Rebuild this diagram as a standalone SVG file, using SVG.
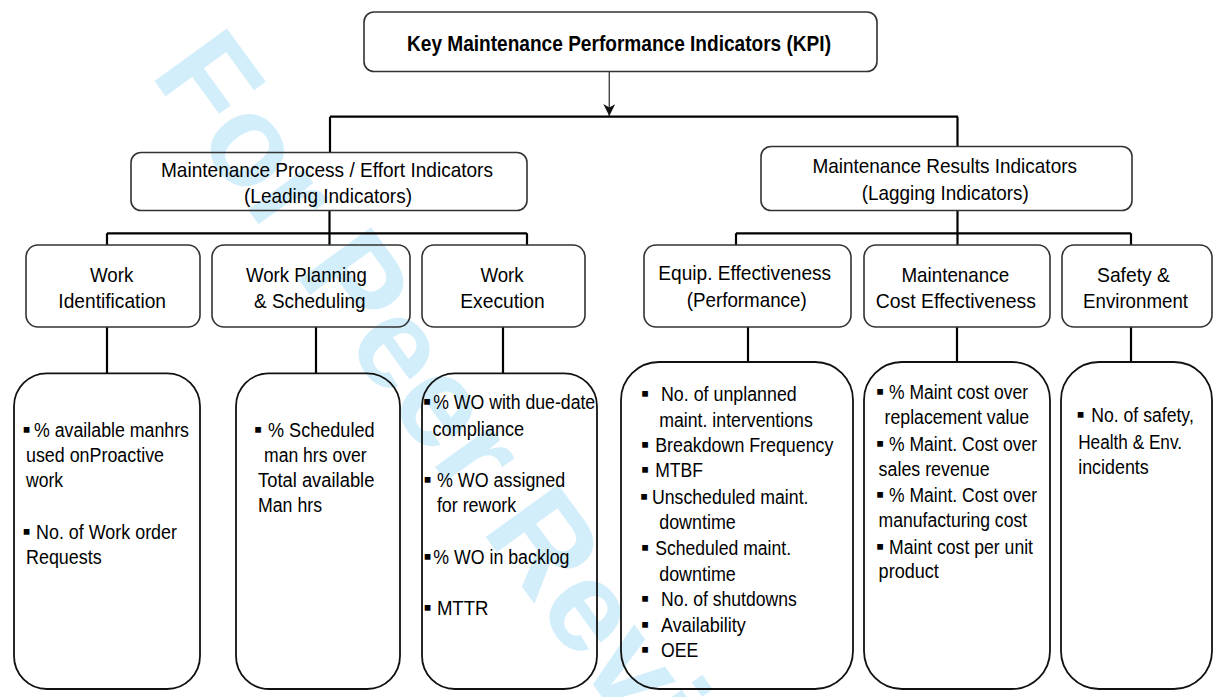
<svg xmlns="http://www.w3.org/2000/svg" width="1223" height="697" viewBox="0 0 1223 697">
<defs>
<style>
.wm{font-family:"Liberation Sans",Arial,sans-serif;font-weight:bold;font-size:130px;fill:#d3eefb}
.box{fill:none;stroke:#333;stroke-width:1.6}
.lbox{fill:none;stroke:#111;stroke-width:1.8}
.conn{fill:none;stroke:#000;stroke-width:2.2}
.arr{fill:none;stroke:#444;stroke-width:1.4}
.title{font-family:"Liberation Sans",Arial,sans-serif;font-weight:bold;font-size:22px;fill:#000}
.h{font-family:"Liberation Sans",Arial,sans-serif;font-size:21px;fill:#000}
.t{font-family:"Liberation Sans",Arial,sans-serif;font-size:19.5px;fill:#000}
.b{font-family:"Liberation Sans",Arial,sans-serif;font-size:23px;fill:#000}
</style>
<marker id="arrow" markerUnits="userSpaceOnUse" markerWidth="13" markerHeight="13" refX="12" refY="6" orient="auto">
<path d="M0,0 L12,6 L0,12 L3.5,6 z" fill="#111"/>
</marker>
</defs>
<rect width="1223" height="697" fill="#fff"/>
<text class="wm" transform="translate(149.4,74) rotate(54)">For Peer Review</text>

<g id="connectors">
<path class="arr" d="M609.3,71.5 V116" marker-end="url(#arrow)"/>
<path class="conn" d="M330,116.7 H958 M330,116.7 V152.5 M957.5,116.7 V146.5"/>
<path class="conn" d="M107,233.3 H527 M329.5,210.5 V245 M107,233.3 V245 M527,233.3 V245"/>
<path class="conn" d="M736,233.3 H1131 M957.5,210.5 V245 M736,233.3 V245 M1131,233.3 V245"/>
<path class="conn" d="M107,327 V373.3 M316,327 V373.3 M503,327 V373.3 M748,327 V362 M957,327 V362 M1131,327 V362"/>
</g>

<g id="kpi">
<rect class="box" x="364" y="12" width="513" height="59.5" rx="10"/>
<text class="title" x="407" y="50.7" textLength="424" lengthAdjust="spacingAndGlyphs">Key Maintenance Performance Indicators (KPI)</text>
</g>

<g id="leading">
<rect class="box" x="131" y="152.5" width="396" height="58" rx="10"/>
<text class="h" x="161" y="176.7" textLength="332" lengthAdjust="spacingAndGlyphs">Maintenance Process / Effort Indicators</text>
<text class="h" x="244" y="203" textLength="168" lengthAdjust="spacingAndGlyphs">(Leading Indicators)</text>
</g>

<g id="lagging">
<rect class="box" x="761" y="146.5" width="371" height="64" rx="10"/>
<text class="h" x="812.4" y="173.3" textLength="264.6" lengthAdjust="spacingAndGlyphs">Maintenance Results Indicators</text>
<text class="h" x="861.8" y="200" textLength="167" lengthAdjust="spacingAndGlyphs">(Lagging Indicators)</text>
</g>

<g id="work-identification">
<rect class="box" x="26" y="245" width="174" height="82" rx="12"/>
<text class="h" x="90" y="281.7" textLength="43.3" lengthAdjust="spacingAndGlyphs">Work</text>
<text class="h" x="58.3" y="308.3" textLength="107.7" lengthAdjust="spacingAndGlyphs">Identification</text>
</g>

<g id="work-planning">
<rect class="box" x="212" y="245" width="198" height="82" rx="12"/>
<text class="h" x="246" y="281.7" textLength="120.8" lengthAdjust="spacingAndGlyphs">Work Planning</text>
<text class="h" x="254" y="308.3" textLength="111.6" lengthAdjust="spacingAndGlyphs">&amp; Scheduling</text>
</g>

<g id="work-execution">
<rect class="box" x="422" y="245" width="163" height="82" rx="12"/>
<text class="h" x="480.4" y="281.7" textLength="43.3" lengthAdjust="spacingAndGlyphs">Work</text>
<text class="h" x="460.3" y="308.3" textLength="84.4" lengthAdjust="spacingAndGlyphs">Execution</text>
</g>

<g id="equip-effectiveness">
<rect class="box" x="644" y="245" width="207" height="82" rx="12"/>
<text class="h" x="658.3" y="280" textLength="172.9" lengthAdjust="spacingAndGlyphs">Equip. Effectiveness</text>
<text class="h" x="686.7" y="306.7" textLength="120" lengthAdjust="spacingAndGlyphs">(Performance)</text>
</g>

<g id="cost-effectiveness">
<rect class="box" x="864" y="245" width="186" height="82" rx="12"/>
<text class="h" x="901.4" y="281.7" textLength="107.7" lengthAdjust="spacingAndGlyphs">Maintenance</text>
<text class="h" x="875.7" y="308.3" textLength="160.3" lengthAdjust="spacingAndGlyphs">Cost Effectiveness</text>
</g>

<g id="safety-environment">
<rect class="box" x="1062" y="245" width="150" height="82" rx="12"/>
<text class="h" x="1097" y="281.7" textLength="73" lengthAdjust="spacingAndGlyphs">Safety &amp;</text>
<text class="h" x="1083" y="308.3" textLength="105" lengthAdjust="spacingAndGlyphs">Environment</text>
</g>

<g id="identification-kpis">
<rect class="lbox" x="14" y="373.3" width="186" height="315.7" rx="33"/>
<text class="b" x="22.5" y="436.7">▪</text>
<text class="t" x="34" y="436.7" textLength="155" lengthAdjust="spacingAndGlyphs">% available manhrs</text>
<text class="t" x="26" y="462.3" textLength="138" lengthAdjust="spacingAndGlyphs">used onProactive</text>
<text class="t" x="26" y="486.7" textLength="37" lengthAdjust="spacingAndGlyphs">work</text>
<text class="b" x="22.5" y="539">▪</text>
<text class="t" x="36" y="539" textLength="141" lengthAdjust="spacingAndGlyphs">No. of Work order</text>
<text class="t" x="26" y="564" textLength="75.7" lengthAdjust="spacingAndGlyphs">Requests</text>
</g>

<g id="planning-kpis">
<rect class="lbox" x="236" y="373.3" width="164" height="315.7" rx="33"/>
<text class="b" x="254" y="436.7">▪</text>
<text class="t" x="268" y="436.7" textLength="106.5" lengthAdjust="spacingAndGlyphs">% Scheduled</text>
<text class="t" x="264" y="461.7" textLength="102.6" lengthAdjust="spacingAndGlyphs">man hrs over</text>
<text class="t" x="258" y="486.7" textLength="116.4" lengthAdjust="spacingAndGlyphs">Total available</text>
<text class="t" x="258" y="511.7" textLength="64" lengthAdjust="spacingAndGlyphs">Man hrs</text>
</g>

<g id="execution-kpis">
<rect class="lbox" x="422" y="373.3" width="175" height="315.7" rx="33"/>
<text class="b" x="423" y="409.3">▪</text>
<text class="t" x="433.2" y="409.3" textLength="162" lengthAdjust="spacingAndGlyphs">% WO with due-date</text>
<text class="t" x="432.5" y="435.7" textLength="91.7" lengthAdjust="spacingAndGlyphs">compliance</text>
<text class="b" x="423.5" y="486.7">▪</text>
<text class="t" x="436.9" y="486.7" textLength="128.3" lengthAdjust="spacingAndGlyphs">% WO assigned</text>
<text class="t" x="436.9" y="512.3" textLength="79.3" lengthAdjust="spacingAndGlyphs">for rework</text>
<text class="b" x="423.5" y="564">▪</text>
<text class="t" x="433.2" y="564" textLength="136.3" lengthAdjust="spacingAndGlyphs">% WO in backlog</text>
<text class="b" x="423.5" y="615">▪</text>
<text class="t" x="436.9" y="615" textLength="51.6" lengthAdjust="spacingAndGlyphs">MTTR</text>
</g>

<g id="equipment-kpis">
<rect class="lbox" x="621" y="362" width="232" height="327" rx="38"/>
<text class="b" x="641" y="400.7">▪</text>
<text class="t" x="661" y="400.7" textLength="135.7" lengthAdjust="spacingAndGlyphs">No. of unplanned</text>
<text class="t" x="659.2" y="426.7" textLength="153.6" lengthAdjust="spacingAndGlyphs">maint. interventions</text>
<text class="b" x="641" y="452.3">▪</text>
<text class="t" x="655.2" y="452.3" textLength="178.2" lengthAdjust="spacingAndGlyphs">Breakdown Frequency</text>
<text class="b" x="641" y="477.3">▪</text>
<text class="t" x="655.2" y="477.3" textLength="47.8" lengthAdjust="spacingAndGlyphs">MTBF</text>
<text class="b" x="640" y="504">▪</text>
<text class="t" x="651.9" y="504" textLength="156.6" lengthAdjust="spacingAndGlyphs">Unscheduled maint.</text>
<text class="t" x="659.2" y="529" textLength="76.6" lengthAdjust="spacingAndGlyphs">downtime</text>
<text class="b" x="641" y="555">▪</text>
<text class="t" x="655.2" y="555" textLength="135.9" lengthAdjust="spacingAndGlyphs">Scheduled maint.</text>
<text class="t" x="659.2" y="580.7" textLength="76.6" lengthAdjust="spacingAndGlyphs">downtime</text>
<text class="b" x="641" y="606">▪</text>
<text class="t" x="661" y="606" textLength="135.7" lengthAdjust="spacingAndGlyphs">No. of shutdowns</text>
<text class="b" x="641" y="632.3">▪</text>
<text class="t" x="661" y="632.3" textLength="84.8" lengthAdjust="spacingAndGlyphs">Availability</text>
<text class="b" x="641" y="657.3">▪</text>
<text class="t" x="661" y="657.3" textLength="37.3" lengthAdjust="spacingAndGlyphs">OEE</text>
</g>

<g id="cost-kpis">
<rect class="lbox" x="864" y="362" width="186" height="327" rx="38"/>
<text class="b" x="876" y="399">▪</text>
<text class="t" x="889" y="399" textLength="139" lengthAdjust="spacingAndGlyphs">% Maint cost over</text>
<text class="t" x="884.6" y="424" textLength="144.5" lengthAdjust="spacingAndGlyphs">replacement value</text>
<text class="b" x="876" y="450.7">▪</text>
<text class="t" x="889" y="450.7" textLength="148" lengthAdjust="spacingAndGlyphs">% Maint. Cost over</text>
<text class="t" x="878.6" y="475.7" textLength="111" lengthAdjust="spacingAndGlyphs">sales revenue</text>
<text class="b" x="876" y="502.3">▪</text>
<text class="t" x="889" y="502.3" textLength="148" lengthAdjust="spacingAndGlyphs">% Maint. Cost over</text>
<text class="t" x="878.6" y="526.7" textLength="148.5" lengthAdjust="spacingAndGlyphs">manufacturing cost</text>
<text class="b" x="876" y="554">▪</text>
<text class="t" x="889" y="554" textLength="144" lengthAdjust="spacingAndGlyphs">Maint cost per unit</text>
<text class="t" x="878.6" y="578.3" textLength="60.3" lengthAdjust="spacingAndGlyphs">product</text>
</g>

<g id="safety-kpis">
<rect class="lbox" x="1061" y="362" width="151" height="327" rx="38"/>
<text class="b" x="1076.5" y="422.3">▪</text>
<text class="t" x="1091.2" y="422.3" textLength="102.6" lengthAdjust="spacingAndGlyphs">No. of safety,</text>
<text class="t" x="1078.2" y="449" textLength="103.8" lengthAdjust="spacingAndGlyphs">Health &amp; Env.</text>
<text class="t" x="1078.2" y="474" textLength="70.6" lengthAdjust="spacingAndGlyphs">incidents</text>
</g>
</svg>
